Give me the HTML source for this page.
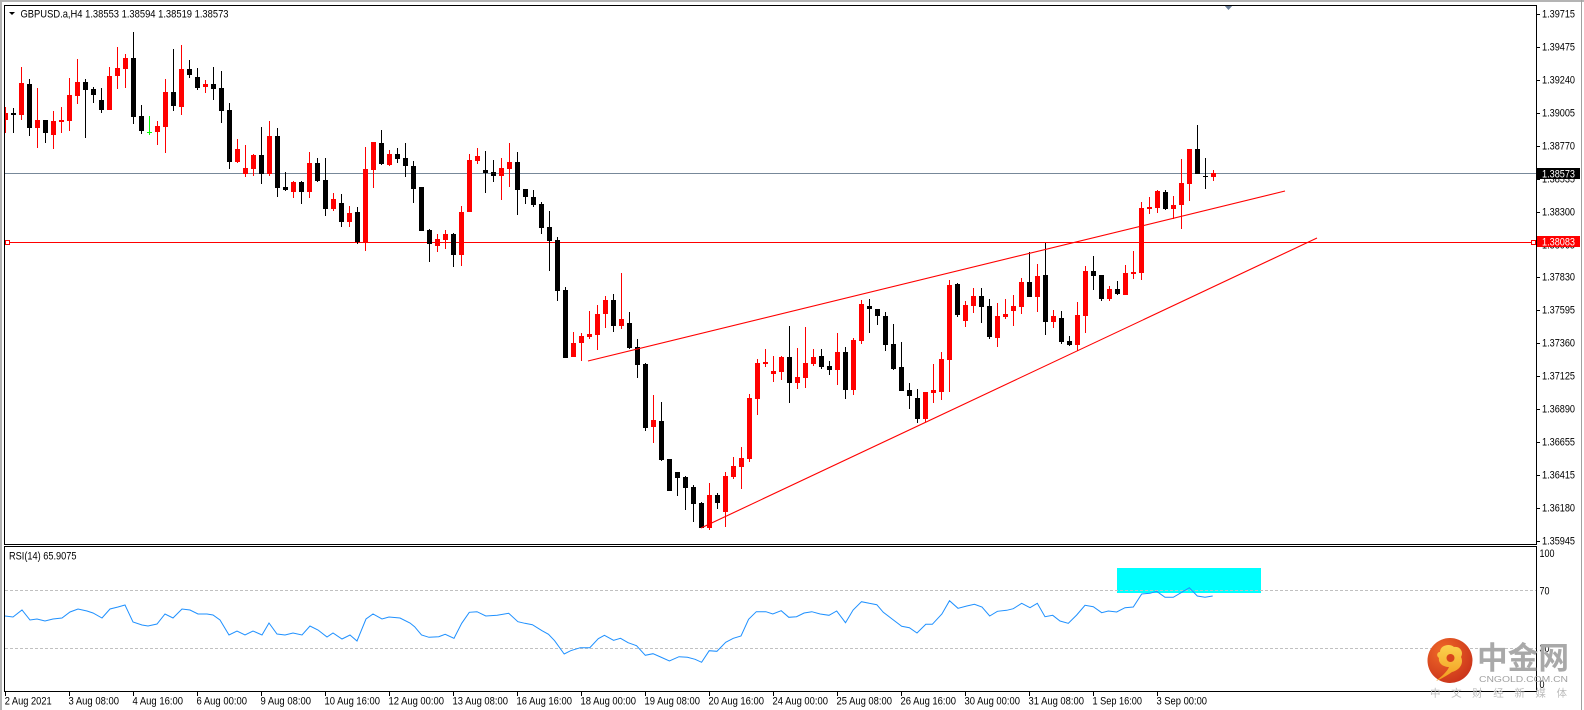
<!DOCTYPE html>
<html><head><meta charset="utf-8"><style>
html,body{margin:0;padding:0;background:#fff;}
svg{display:block;}
text{font-family:"Liberation Sans","Noto Sans CJK SC",sans-serif;}
</style></head><body>
<svg width="1584" height="710" viewBox="0 0 1584 710" xmlns="http://www.w3.org/2000/svg">
<defs>
<clipPath id="cm"><rect x="5" y="6" width="1531" height="538"/></clipPath>
<clipPath id="cr"><rect x="5" y="547" width="1531" height="144"/></clipPath>
<radialGradient id="lg" cx="0.35" cy="0.3" r="0.8"><stop offset="0" stop-color="#f06a28"/><stop offset="1" stop-color="#c8301a"/></radialGradient>
<linearGradient id="yg" x1="0" y1="0" x2="0" y2="1"><stop offset="0" stop-color="#fbd24e"/><stop offset="1" stop-color="#f29a1f"/></linearGradient>
</defs>
<rect width="1584" height="710" fill="#fff"/>
<!-- outer frame -->
<rect x="0" y="0" width="1584" height="2" fill="#b4b4b4"/>
<rect x="0" y="0" width="2" height="710" fill="#b4b4b4"/>
<rect x="1581" y="0" width="1" height="710" fill="#a0a0a0"/>

<!-- main panel -->
<g clip-path="url(#cm)" shape-rendering="crispEdges">
<rect x="5" y="173" width="1531" height="1" fill="#778899"/>
<rect x="5" y="242" width="1531" height="1" fill="#ff0000"/>
<path fill="#ff0000" d="M5 107h1V133h-1zM3 113h5V120h-5zM21 67h1V120h-1zM19 83h5V115h-5zM37 88h1V148h-1zM35 120h5V128h-5zM53 111h1V149h-1zM51 121h5V135h-5zM61 107h1V133h-1zM59 120h5V122h-5zM69 78h1V131h-1zM67 95h5V121h-5zM77 59h1V104h-1zM75 82h5V96h-5zM109 67h1V110h-1zM107 76h5V110h-5zM117 47h1V89h-1zM115 68h5V76h-5zM125 54h1V88h-1zM123 58h5V69h-5zM157 121h1V145h-1zM155 126h5V132h-5zM165 79h1V153h-1zM163 92h5V127h-5zM181 45h1V115h-1zM179 69h5V107h-5zM205 80h1V93h-1zM203 84h5V87h-5zM237 139h1V163h-1zM235 149h5V162h-5zM245 145h1V177h-1zM243 168h5V174h-5zM253 154h1V176h-1zM251 155h5V169h-5zM269 121h1V176h-1zM267 136h5V174h-5zM293 181h1V198h-1zM291 182h5V192h-5zM309 152h1V198h-1zM307 163h5V192h-5zM333 193h1V211h-1zM331 199h5V209h-5zM349 206h1V227h-1zM347 213h5V222h-5zM365 147h1V251h-1zM363 169h5V243h-5zM373 142h1V188h-1zM371 142h5V170h-5zM389 150h1V166h-1zM387 154h5V165h-5zM437 234h1V252h-1zM435 239h5V246h-5zM445 230h1V249h-1zM443 234h5V240h-5zM461 206h1V266h-1zM459 212h5V255h-5zM469 154h1V212h-1zM467 160h5V212h-5zM477 148h1V164h-1zM475 156h5V161h-5zM501 158h1V200h-1zM499 168h5V176h-5zM509 143h1V187h-1zM507 162h5V169h-5zM573 332h1V357h-1zM571 343h5V357h-5zM581 333h1V361h-1zM579 336h5V343h-5zM589 311h1V339h-1zM587 334h5V337h-5zM597 305h1V350h-1zM595 314h5V335h-5zM605 296h1V328h-1zM603 300h5V314h-5zM621 273h1V329h-1zM619 319h5V326h-5zM653 395h1V443h-1zM651 420h5V427h-5zM709 483h1V530h-1zM707 495h5V528h-5zM725 472h1V527h-1zM723 476h5V512h-5zM733 457h1V479h-1zM731 466h5V477h-5zM741 447h1V489h-1zM739 458h5V467h-5zM749 394h1V462h-1zM747 398h5V459h-5zM757 359h1V415h-1zM755 363h5V399h-5zM765 349h1V367h-1zM763 362h5V364h-5zM773 356h1V382h-1zM771 371h5V374h-5zM781 356h1V380h-1zM779 357h5V372h-5zM797 348h1V389h-1zM795 377h5V383h-5zM805 327h1V388h-1zM803 363h5V378h-5zM813 349h1V366h-1zM811 357h5V364h-5zM837 333h1V385h-1zM835 352h5V370h-5zM853 338h1V395h-1zM851 340h5V390h-5zM861 300h1V344h-1zM859 304h5V341h-5zM925 392h1V422h-1zM923 392h5V419h-5zM933 364h1V403h-1zM931 390h5V393h-5zM941 352h1V400h-1zM939 359h5V392h-5zM949 280h1V392h-1zM947 285h5V360h-5zM965 301h1V327h-1zM963 305h5V321h-5zM973 288h1V313h-1zM971 296h5V306h-5zM997 303h1V347h-1zM995 316h5V338h-5zM1005 299h1V319h-1zM1003 314h5V317h-5zM1013 295h1V326h-1zM1011 306h5V311h-5zM1021 278h1V314h-1zM1019 282h5V307h-5zM1037 264h1V312h-1zM1035 276h5V297h-5zM1053 310h1V328h-1zM1051 316h5V322h-5zM1077 302h1V351h-1zM1075 315h5V345h-5zM1085 266h1V333h-1zM1083 271h5V316h-5zM1109 286h1V301h-1zM1107 289h5V299h-5zM1125 265h1V295h-1zM1123 273h5V295h-5zM1133 251h1V279h-1zM1131 272h5V274h-5zM1141 202h1V280h-1zM1139 208h5V273h-5zM1149 197h1V214h-1zM1147 207h5V209h-5zM1157 190h1V213h-1zM1155 191h5V208h-5zM1173 196h1V219h-1zM1171 205h5V209h-5zM1181 159h1V229h-1zM1179 183h5V205h-5zM1189 149h1V201h-1zM1187 149h5V184h-5zM1213 170h1V181h-1zM1211 173h5V177h-5z"/>
<path fill="#000000" d="M13 108h1V133h-1zM11 113h5V115h-5zM29 79h1V136h-1zM27 84h5V128h-5zM45 120h1V143h-1zM43 120h5V133h-5zM85 79h1V138h-1zM83 82h5V90h-5zM93 87h1V103h-1zM91 89h5V95h-5zM101 88h1V113h-1zM99 100h5V110h-5zM133 32h1V124h-1zM131 58h5V117h-5zM141 105h1V134h-1zM139 116h5V131h-5zM173 49h1V111h-1zM171 92h5V106h-5zM189 60h1V78h-1zM187 69h5V75h-5zM197 68h1V90h-1zM195 77h5V88h-5zM213 67h1V100h-1zM211 84h5V89h-5zM221 71h1V123h-1zM219 88h5V111h-5zM229 103h1V169h-1zM227 110h5V162h-5zM261 127h1V184h-1zM259 155h5V174h-5zM277 128h1V197h-1zM275 136h5V188h-5zM285 172h1V191h-1zM283 187h5V190h-5zM301 181h1V204h-1zM299 182h5V192h-5zM317 158h1V182h-1zM315 163h5V181h-5zM325 158h1V216h-1zM323 180h5V209h-5zM341 194h1V227h-1zM339 203h5V222h-5zM357 207h1V244h-1zM355 212h5V242h-5zM381 130h1V165h-1zM379 143h5V164h-5zM397 148h1V163h-1zM395 154h5V159h-5zM405 143h1V177h-1zM403 158h5V166h-5zM413 161h1V203h-1zM411 166h5V189h-5zM419 187h5V231h-5zM429 229h1V262h-1zM427 230h5V244h-5zM453 233h1V267h-1zM451 234h5V255h-5zM485 151h1V193h-1zM483 170h5V173h-5zM493 160h1V182h-1zM491 172h5V176h-5zM517 152h1V215h-1zM515 162h5V190h-5zM525 189h1V204h-1zM523 189h5V197h-5zM533 190h1V207h-1zM531 197h5V205h-5zM541 202h1V234h-1zM539 204h5V228h-5zM549 211h1V271h-1zM547 227h5V241h-5zM557 237h1V301h-1zM555 240h5V291h-5zM565 287h1V358h-1zM563 290h5V358h-5zM613 294h1V332h-1zM611 300h5V326h-5zM629 312h1V349h-1zM627 323h5V348h-5zM637 339h1V378h-1zM635 347h5V365h-5zM645 363h1V431h-1zM643 364h5V428h-5zM661 402h1V461h-1zM659 421h5V460h-5zM667 459h5V491h-5zM677 472h1V496h-1zM675 472h5V478h-5zM685 476h1V510h-1zM683 477h5V488h-5zM693 485h1V522h-1zM691 487h5V504h-5zM701 502h1V528h-1zM699 503h5V528h-5zM717 493h1V509h-1zM715 495h5V503h-5zM789 326h1V403h-1zM787 357h5V383h-5zM821 349h1V369h-1zM819 356h5V367h-5zM829 361h1V375h-1zM827 366h5V370h-5zM845 347h1V399h-1zM843 352h5V390h-5zM869 299h1V333h-1zM867 306h5V309h-5zM877 309h1V325h-1zM875 309h5V316h-5zM885 312h1V351h-1zM883 316h5V345h-5zM893 324h1V370h-1zM891 344h5V369h-5zM901 342h1V391h-1zM899 367h5V391h-5zM909 383h1V409h-1zM907 390h5V396h-5zM917 389h1V423h-1zM915 398h5V419h-5zM957 283h1V317h-1zM955 284h5V315h-5zM981 288h1V323h-1zM979 296h5V307h-5zM989 299h1V339h-1zM987 306h5V337h-5zM1029 252h1V297h-1zM1027 282h5V297h-5zM1045 243h1V335h-1zM1043 275h5V322h-5zM1061 311h1V344h-1zM1059 318h5V342h-5zM1069 336h1V346h-1zM1067 341h5V345h-5zM1093 256h1V290h-1zM1091 271h5V276h-5zM1101 275h1V301h-1zM1099 275h5V299h-5zM1117 281h1V295h-1zM1115 289h5V294h-5zM1165 190h1V210h-1zM1163 192h5V209h-5zM1197 125h1V174h-1zM1195 149h5V174h-5zM1205 158h1V189h-1zM1203 176h5V177h-5z"/>
<path fill="#00ff00" d="M149 116h1V135h-1zM147 132h5V133h-5z"/>
<rect x="5.5" y="240.5" width="4" height="4" fill="#fff" stroke="#ff0000" stroke-width="1"/>
<rect x="1531.5" y="240.5" width="4" height="4" fill="#fff" stroke="#ff0000" stroke-width="1"/>
</g>
<g clip-path="url(#cm)">
<line x1="588" y1="361" x2="1285" y2="191" stroke="#ff0000" stroke-width="1.1"/>
<line x1="701" y1="528" x2="1317" y2="238" stroke="#ff0000" stroke-width="1.1"/>
</g>

<!-- header -->
<polygon points="9,12 15,12 12,15" fill="#000"/>
<text x="20.5" y="17.3" font-size="10.7" fill="#000" textLength="208" lengthAdjust="spacingAndGlyphs">GBPUSD.a,H4  1.38553 1.38594 1.38519 1.38573</text>
<polygon points="1224,5 1233,5 1228.5,10" fill="#6a7f99"/>

<!-- RSI panel -->
<rect x="1117" y="568" width="144" height="25" fill="#00ffff"/>
<g shape-rendering="crispEdges">
<line x1="5" y1="590.5" x2="1536" y2="590.5" stroke="#c0c0c0" stroke-dasharray="3,2"/>
<line x1="5" y1="648.5" x2="1536" y2="648.5" stroke="#c0c0c0" stroke-dasharray="3,2"/>
</g>
<g clip-path="url(#cr)">
<polyline fill="none" stroke="#1e90ff" stroke-width="1" points="5,616 13,617 22,610 30,620 37,619 45,621 53,619 62,618 70,612 78,609 87,611 93,613 102,618 110,609 118,607 125,605 133,622 142,625 148,626 157,624 165,614 173,618 182,609 190,610 198,614 207,614 213,615 220,620 229,635 237,631 245,635 253,631 262,635 269,623 277,634 285,635 293,633 302,635 310,626 318,630 327,637 333,633 342,639 350,635 357,641 366,619 373,614 382,619 389,617 400,618 410,623 414.6,626.7 421.5,635 429,637.3 438.7,636.7 445.2,634.3 454,638.3 461.7,623.3 469.3,612.3 477,611.7 485.8,616 497.2,615.3 508.7,613.3 517.9,621.7 524.8,623.3 532.4,624.7 542,630.7 548.5,634.3 554.6,640.7 564.2,654 570.7,650.7 580.3,647.7 589.8,647.7 598.3,638.7 604.4,635.3 613.6,640.3 620.5,638.3 628.1,642.7 636.5,645.7 645.3,655.3 653,653.7 660.6,657 669.4,661 679,656.7 687.4,657.3 695.1,659.3 701.6,662.3 709.2,650.7 716.9,651.3 725.7,642.3 733.3,638.3 741,636 748.6,619.3 756.3,611.7 765.9,611.7 772.8,614 781.2,610.7 788.8,617.3 796.5,616.7 804.1,613 811.8,611.7 820.2,614 829,615.3 836.7,611 845.5,622.7 853.1,610 861.5,601.7 869.2,603.3 876.8,604.7 883.3,612.3 892.1,619 901.7,626.3 909.4,627.7 917,633 925.8,624.3 932.3,624.3 941.9,614 949.5,600.7 958,608.3 966.8,606 974.4,604.3 982,607 989.7,616 997.4,611.3 1006.7,610.3 1013.3,608.7 1021.7,603.3 1030,607.7 1037.3,603.3 1045,616.7 1052.7,615.3 1060,621 1068.3,623.3 1076.7,615 1085,605.3 1093.3,606.7 1101.7,612.7 1108.3,611 1116.7,612 1125,607.7 1133.3,607 1141.7,594 1150,593.3 1156.7,591.3 1165,597.3 1173.3,597.3 1181.7,592.3 1189.3,587.7 1197.3,596 1205,597.3 1212.7,596"/>
</g>
<text x="9" y="559.5" font-size="10.7" fill="#000" textLength="67.5" lengthAdjust="spacingAndGlyphs">RSI(14) 65.9075</text>

<!-- panel borders -->
<g shape-rendering="crispEdges" fill="none" stroke="#000" stroke-width="1">
<rect x="4.5" y="5.5" width="1532" height="539"/>
<rect x="4.5" y="546.5" width="1532" height="145"/>
</g>

<!-- price axis -->
<g shape-rendering="crispEdges" fill="#000">
<rect x="1537" y="14" width="3" height="1"/><rect x="1537" y="47" width="3" height="1"/><rect x="1537" y="80" width="3" height="1"/><rect x="1537" y="113" width="3" height="1"/><rect x="1537" y="146" width="3" height="1"/><rect x="1537" y="179" width="3" height="1"/><rect x="1537" y="212" width="3" height="1"/><rect x="1537" y="245" width="3" height="1"/><rect x="1537" y="277" width="3" height="1"/><rect x="1537" y="310" width="3" height="1"/><rect x="1537" y="343" width="3" height="1"/><rect x="1537" y="376" width="3" height="1"/><rect x="1537" y="409" width="3" height="1"/><rect x="1537" y="442" width="3" height="1"/><rect x="1537" y="475" width="3" height="1"/><rect x="1537" y="508" width="3" height="1"/><rect x="1537" y="541" width="3" height="1"/>
</g>
<g font-size="10.7" fill="#000">
<text x="1542" y="17.6" textLength="33" lengthAdjust="spacingAndGlyphs">1.39715</text>
<text x="1542" y="50.6" textLength="33" lengthAdjust="spacingAndGlyphs">1.39475</text>
<text x="1542" y="83.6" textLength="33" lengthAdjust="spacingAndGlyphs">1.39240</text>
<text x="1542" y="116.6" textLength="33" lengthAdjust="spacingAndGlyphs">1.39005</text>
<text x="1542" y="149.6" textLength="33" lengthAdjust="spacingAndGlyphs">1.38770</text>
<text x="1542" y="182.6" textLength="33" lengthAdjust="spacingAndGlyphs">1.38535</text>
<text x="1542" y="215.6" textLength="33" lengthAdjust="spacingAndGlyphs">1.38300</text>
<text x="1542" y="248.6" textLength="33" lengthAdjust="spacingAndGlyphs">1.38065</text>
<text x="1542" y="280.6" textLength="33" lengthAdjust="spacingAndGlyphs">1.37830</text>
<text x="1542" y="313.6" textLength="33" lengthAdjust="spacingAndGlyphs">1.37595</text>
<text x="1542" y="346.6" textLength="33" lengthAdjust="spacingAndGlyphs">1.37360</text>
<text x="1542" y="379.6" textLength="33" lengthAdjust="spacingAndGlyphs">1.37125</text>
<text x="1542" y="412.6" textLength="33" lengthAdjust="spacingAndGlyphs">1.36890</text>
<text x="1542" y="445.6" textLength="33" lengthAdjust="spacingAndGlyphs">1.36655</text>
<text x="1542" y="478.6" textLength="33" lengthAdjust="spacingAndGlyphs">1.36415</text>
<text x="1542" y="511.6" textLength="33" lengthAdjust="spacingAndGlyphs">1.36180</text>
<text x="1542" y="544.6" textLength="33" lengthAdjust="spacingAndGlyphs">1.35945</text>
</g>
<rect x="1537" y="168" width="43" height="11" fill="#000"/>
<text x="1542" y="177.3" font-size="10.7" fill="#fff" textLength="33" lengthAdjust="spacingAndGlyphs">1.38573</text>
<rect x="1537" y="236" width="43" height="11" fill="#ff0000"/>
<text x="1542" y="245.3" font-size="10.7" fill="#fff" textLength="33" lengthAdjust="spacingAndGlyphs">1.38083</text>

<!-- RSI axis -->
<g font-size="10.7" fill="#000">
<text x="1539.5" y="557" textLength="15" lengthAdjust="spacingAndGlyphs">100</text>
<text x="1539.5" y="594.3" textLength="10" lengthAdjust="spacingAndGlyphs">70</text>
<text x="1539.5" y="652.2" textLength="10" lengthAdjust="spacingAndGlyphs">30</text>
<text x="1539.5" y="688" textLength="5" lengthAdjust="spacingAndGlyphs">0</text>
</g>

<!-- time axis -->
<g shape-rendering="crispEdges" fill="#000">
<rect x="5" y="692" width="1" height="4"/><rect x="69" y="692" width="1" height="4"/><rect x="133" y="692" width="1" height="4"/><rect x="197" y="692" width="1" height="4"/><rect x="261" y="692" width="1" height="4"/><rect x="325" y="692" width="1" height="4"/><rect x="389" y="692" width="1" height="4"/><rect x="453" y="692" width="1" height="4"/><rect x="517" y="692" width="1" height="4"/><rect x="581" y="692" width="1" height="4"/><rect x="645" y="692" width="1" height="4"/><rect x="709" y="692" width="1" height="4"/><rect x="773" y="692" width="1" height="4"/><rect x="837" y="692" width="1" height="4"/><rect x="901" y="692" width="1" height="4"/><rect x="965" y="692" width="1" height="4"/><rect x="1029" y="692" width="1" height="4"/><rect x="1093" y="692" width="1" height="4"/><rect x="1157" y="692" width="1" height="4"/>
</g>
<g font-size="10.7" fill="#000" lengthAdjust="spacingAndGlyphs">
<text x="4.7" y="704.6" textLength="47" lengthAdjust="spacingAndGlyphs">2 Aug 2021</text>
<text x="68.5" y="704.6" textLength="50.5" lengthAdjust="spacingAndGlyphs">3 Aug 08:00</text>
<text x="132.5" y="704.6" textLength="50.5" lengthAdjust="spacingAndGlyphs">4 Aug 16:00</text>
<text x="196.5" y="704.6" textLength="50.5" lengthAdjust="spacingAndGlyphs">6 Aug 00:00</text>
<text x="260.5" y="704.6" textLength="50.5" lengthAdjust="spacingAndGlyphs">9 Aug 08:00</text>
<text x="324.5" y="704.6" textLength="55.5" lengthAdjust="spacingAndGlyphs">10 Aug 16:00</text>
<text x="388.5" y="704.6" textLength="55.5" lengthAdjust="spacingAndGlyphs">12 Aug 00:00</text>
<text x="452.5" y="704.6" textLength="55.5" lengthAdjust="spacingAndGlyphs">13 Aug 08:00</text>
<text x="516.5" y="704.6" textLength="55.5" lengthAdjust="spacingAndGlyphs">16 Aug 16:00</text>
<text x="580.5" y="704.6" textLength="55.5" lengthAdjust="spacingAndGlyphs">18 Aug 00:00</text>
<text x="644.5" y="704.6" textLength="55.5" lengthAdjust="spacingAndGlyphs">19 Aug 08:00</text>
<text x="708.5" y="704.6" textLength="55.5" lengthAdjust="spacingAndGlyphs">20 Aug 16:00</text>
<text x="772.5" y="704.6" textLength="55.5" lengthAdjust="spacingAndGlyphs">24 Aug 00:00</text>
<text x="836.5" y="704.6" textLength="55.5" lengthAdjust="spacingAndGlyphs">25 Aug 08:00</text>
<text x="900.5" y="704.6" textLength="55.5" lengthAdjust="spacingAndGlyphs">26 Aug 16:00</text>
<text x="964.5" y="704.6" textLength="55.5" lengthAdjust="spacingAndGlyphs">30 Aug 00:00</text>
<text x="1028.5" y="704.6" textLength="55.5" lengthAdjust="spacingAndGlyphs">31 Aug 08:00</text>
<text x="1092.5" y="704.6" textLength="49.5" lengthAdjust="spacingAndGlyphs">1 Sep 16:00</text>
<text x="1156.5" y="704.6" textLength="50.5" lengthAdjust="spacingAndGlyphs">3 Sep 00:00</text>
</g>

<!-- watermark -->
<circle cx="1450" cy="660.5" r="22.5" fill="url(#lg)"/>
<path d="M1440 652 C1440 645,1450 643,1454 647 C1460 646,1464 652,1461 657 C1464 663,1460 670,1452 672 C1446 676,1441 679,1436 681 C1442 676,1447 672,1449 667 C1443 667,1438 663,1439 658 C1436 656,1437 652,1440 652 Z" fill="url(#yg)"/>
<circle cx="1450.5" cy="658" r="4" fill="#d8441c"/>
<text x="1477" y="669" font-family="'Noto Sans CJK SC','WenQuanYi Zen Hei',sans-serif" font-weight="bold" font-size="31" fill="#a9a9a9" textLength="92" lengthAdjust="spacingAndGlyphs">中金网</text>
<text x="1479" y="681.8" font-size="8" fill="#a0a0a0" textLength="89" lengthAdjust="spacingAndGlyphs">CNGOLD.COM.CN</text>
<text x="1430" y="696.5" font-family="'Noto Sans CJK SC','WenQuanYi Zen Hei',sans-serif" font-size="10.5" fill="#bdbdbd" textLength="137" lengthAdjust="spacing">中文财经新媒体</text>
</svg>
</body></html>
